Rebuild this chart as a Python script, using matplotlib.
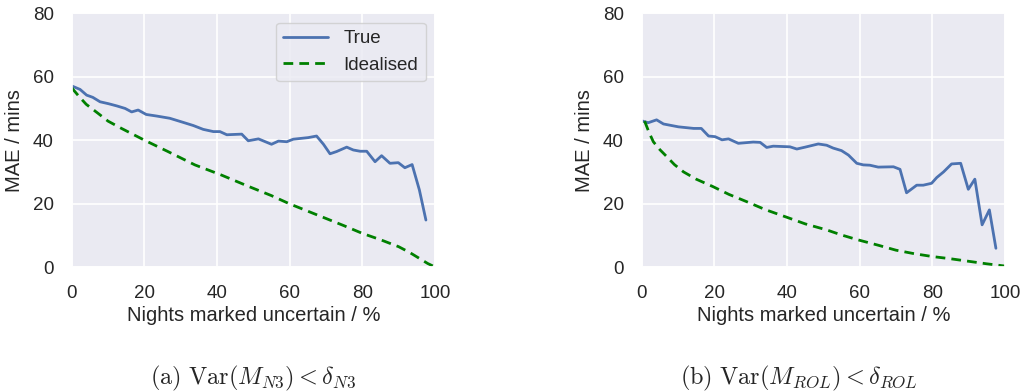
import matplotlib
matplotlib.use("Agg")
import matplotlib.pyplot as plt
import seaborn as sns

# ---------------- data ----------------
true_a_x = [0, 2.3, 4.1, 5.8, 7.8, 10.1, 12.4, 14.7, 16.5, 18.3, 20.5, 23.4, 27.0, 30.7,
            33.5, 36.2, 39.0, 40.8, 42.7, 46.8, 48.6, 51.4, 55.0, 56.9, 59.2, 61.0, 65.1,
            67.4, 69.3, 71.1, 72.9, 75.7, 77.5, 79.4, 81.2, 83.5, 85.3, 87.6, 89.9, 91.7,
            93.7, 95.7, 97.5]
true_a_y = [57.1, 56.0, 54.2, 53.5, 52.1, 51.5, 50.8, 50.0, 48.9, 49.5, 48.1, 47.6, 46.9, 45.6,
            44.6, 43.4, 42.7, 42.7, 41.7, 41.9, 39.8, 40.4, 38.7, 39.7, 39.5, 40.3, 40.8,
            41.3, 38.7, 35.7, 36.4, 37.8, 36.9, 36.5, 36.5, 33.2, 35.1, 32.7, 32.9, 31.3,
            32.3, 24.3, 14.8]

ideal_a_x = [0, 2, 4, 7.2, 10, 13.7, 20, 26.5, 33.9, 41.2, 48.5, 55, 60, 65, 70, 75, 80,
             85, 90, 93, 96, 98, 100]
ideal_a_y = [56.5, 53.8, 51.3, 48.5, 46.0, 43.7, 40.0, 36.4, 32.2, 29.0, 25.5, 22.5, 19.9,
             17.6, 15.3, 13.0, 10.6, 8.6, 6.4, 4.6, 2.5, 1.1, 0.0]

true_b_x = [0, 1.8, 4.1, 6.0, 10.1, 14.3, 16.4, 18.4, 20.2, 22.1, 23.9, 26.6, 30.7, 32.6,
            34.4, 36.2, 40.8, 42.7, 45.0, 48.6, 50.9, 52.7, 55.0, 56.9, 59.2, 61.0, 62.8,
            65.1, 69.3, 71.1, 72.9, 75.7, 77.5, 79.8, 81.2, 83.1, 85.3, 87.8, 89.9, 91.7,
            93.7, 95.7, 97.5]
true_b_y = [46.1, 45.5, 46.4, 45.1, 44.2, 43.7, 43.7, 41.3, 41.1, 40.1, 40.4, 39.0, 39.4, 39.3,
            37.7, 38.1, 37.9, 37.2, 37.8, 38.8, 38.4, 37.5, 36.7, 35.3, 32.7, 32.2, 32.1,
            31.5, 31.6, 30.8, 23.4, 25.8, 25.8, 26.4, 28.2, 30.0, 32.5, 32.7, 24.5, 27.7,
            13.3, 18.0, 5.9]

ideal_b_x = [0.8, 2, 3.2, 5, 6.9, 9, 11.5, 15, 19.7, 24, 28.9, 34, 39.9, 45, 50.9, 55, 59.4,
             65, 70, 75, 80, 85, 90, 95, 100]
ideal_b_y = [46.0, 42.5, 39.5, 37.0, 34.8, 32.3, 30.0, 27.7, 25.3, 22.9, 20.6, 18.1, 15.7,
             13.6, 11.7, 10.1, 8.6, 6.9, 5.3, 4.2, 3.3, 2.6, 1.8, 1.0, 0.3]

x_ticks = [0, 20, 40, 60, 80, 100]
y_ticks = [0, 20, 40, 60, 80]
xlabel = "Nights marked uncertain / %"
ylabel = "MAE / mins"
captions = [r"$\mathrm{(a)\ Var}(M_{N3}) < \delta_{N3}$",
            r"$\mathrm{(b)\ Var}(M_{ROL}) < \delta_{ROL}$"]

# ---------------- style ----------------
sns.set_theme(style="darkgrid")
plt.rcParams["font.family"] = ["Liberation Sans", "DejaVu Sans"]
plt.rcParams["mathtext.fontset"] = "cm"

W, H = 1023, 391
fig = plt.figure(figsize=(W / 100, H / 100), dpi=100)

def px_axes(l, r, t, b):
    return [l / W, 1 - b / H, (r - l) / W, (b - t) / H]

ax_a = fig.add_axes(px_axes(71.7, 435, 13.3, 267))
ax_b = fig.add_axes(px_axes(641.7, 1005, 13.3, 267))

blue = "#4c72b0"
green = "#008000"

for ax, tx, ty, ix, iy in [(ax_a, true_a_x, true_a_y, ideal_a_x, ideal_a_y),
                           (ax_b, true_b_x, true_b_y, ideal_b_x, ideal_b_y)]:
    ax.plot(tx, ty, color=blue, lw=2.0, label="True")
    ax.plot(ix, iy, color=green, lw=2.0, ls=(0, (3.5, 2.2)), label="Idealised")
    ax.set_xlim(0, 100)
    ax.set_ylim(0, 80)
    ax.set_xticks(x_ticks)
    ax.set_yticks(y_ticks)
    ax.tick_params(labelsize=13.5, colors="#262626", pad=7)
    ax.set_xlabel(xlabel, fontsize=14.5, color="#262626", labelpad=3)
    ax.set_ylabel(ylabel, fontsize=14.5, color="#262626", labelpad=6)
    ax.grid(color="white", lw=1.2)

ax_a.legend(loc="upper right", fontsize=13.5, frameon=True, borderaxespad=0.5,
            handlelength=2.4)

fig.text(253 / W, 1 - 378 / H, captions[0], ha="center", va="center", fontsize=17.5)
fig.text(799 / W, 1 - 378 / H, captions[1], ha="center", va="center", fontsize=17.5)

fig.savefig("out.png", dpi=100, facecolor="white")
